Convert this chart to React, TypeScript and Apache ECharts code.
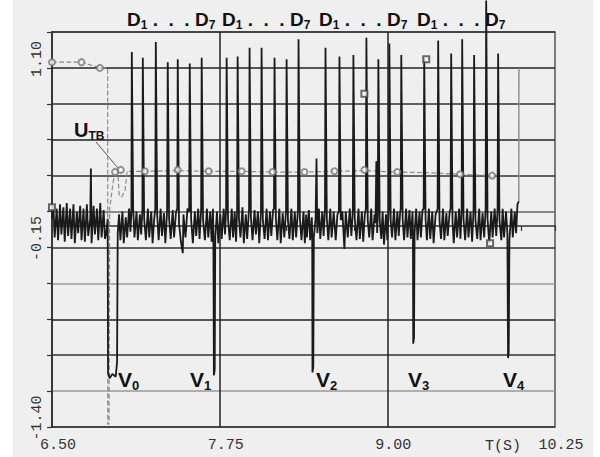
import React, { useEffect, useRef } from 'react';
import * as echarts from 'echarts';

// ---------- axis / label texts ----------
const xTickLabels = ['6.50', '7.75', '9.00', '10.25'];
const yTickLabels = ['1.10', '-0.15', '-1.40'];
const cursorTimes = [7.75, 9.0];
const groupSubs = [['1', '7'], ['1', '7'], ['1', '7'], ['1', '7']];
const valleySubs = ['0', '1', '2', '3', '4'];
const xAxisUnit = 'T(S)';

// ---------- main signal (t [s], value) ----------
const signalLead: [number, number][] = [
  [6.50, 0.05], [6.51, 0.14], [6.52, -0.08], [6.535, 0.12], [6.545, -0.10], [6.56, 0.15], [6.57, -0.06],
  [6.585, 0.13], [6.595, -0.11], [6.61, 0.16], [6.62, -0.07], [6.635, 0.12], [6.645, -0.09], [6.66, 0.15],
  [6.67, -0.12], [6.685, 0.10], [6.695, -0.05], [6.71, 0.14], [6.72, -0.10], [6.735, 0.12], [6.745, -0.11],
  [6.76, 0.15], [6.77, -0.07], [6.785, 0.05], [6.79, 0.40], [6.795, -0.12], [6.81, 0.14], [6.82, -0.06],
  [6.835, 0.12], [6.845, -0.10], [6.86, 0.16], [6.87, -0.08], [6.885, 0.11], [6.895, -0.09], [6.905, -0.05],
  [6.915, 0.05], [6.918, -1.02], [6.93, -1.06], [6.95, -1.03], [6.975, -1.05], [6.985, -0.95], [6.99, -0.05],
  [7.0, 0.08], [7.01, -0.10], [7.025, 0.10], [7.035, -0.12], [7.05, 0.06], [7.06, -0.08], [7.075, 0.12], [7.085, -0.04],
];

const signalGroup1: [number, number][] = [
  [7.092, 0.10], [7.095, 1.21], [7.105, 0.12], [7.115, -0.08], [7.13, 0.10], [7.14, -0.10], [7.155, 0.08], [7.165, -0.06],
  [7.174, 0.12], [7.177, 1.17], [7.187, 0.05], [7.20, -0.10], [7.215, 0.12], [7.225, -0.08], [7.24, 0.10], [7.25, -0.12], [7.262, 0.05],
  [7.27, 0.12], [7.274, 1.28], [7.284, 0.08], [7.295, -0.10], [7.31, 0.12], [7.32, -0.07], [7.335, 0.09], [7.345, -0.12],
  [7.358, 0.10], [7.363, 1.14], [7.373, 0.05], [7.385, -0.09], [7.40, 0.11], [7.41, -0.08], [7.425, 0.10],
  [7.434, 0.12], [7.4375, 1.16], [7.447, 0.02], [7.46, -0.10], [7.475, -0.19], [7.48, 0.08], [7.495, -0.08], [7.51, 0.12],
  [7.523, 0.10], [7.527, 1.13], [7.537, 0.05], [7.55, -0.12], [7.565, 0.10], [7.575, -0.07], [7.59, 0.12], [7.60, -0.09],
  [7.612, 0.12], [7.616, 1.17], [7.626, 0.04], [7.64, -0.10], [7.655, 0.12], [7.665, -0.08], [7.68, 0.10], [7.69, -0.11],
  [7.70, 0.12], [7.703, -0.05], [7.707, -1.04], [7.713, -1.0], [7.717, -0.08],
  [7.73, 0.10], [7.74, -0.12], [7.755, 0.08], [7.765, -0.09], [7.78, 0.12], [7.79, -0.06],
];

const signalGroup2: [number, number][] = [
  [7.798, 0.12], [7.802, 1.17], [7.812, 0.05], [7.825, -0.10], [7.84, 0.12], [7.85, -0.08], [7.862, 0.10], [7.872, -0.11],
  [7.88, 0.10], [7.884, 1.18], [7.894, 0.05], [7.905, -0.08], [7.92, 0.13], [7.93, -0.12], [7.945, 0.08], [7.955, -0.09],
  [7.969, 0.12], [7.973, 1.24], [7.983, 0.06], [7.995, -0.10], [8.01, 0.11], [8.02, -0.06], [8.035, 0.10], [8.045, -0.12],
  [8.058, 0.10], [8.0625, 1.24], [8.072, 0.04], [8.085, -0.09], [8.10, 0.12], [8.11, -0.10], [8.125, 0.10], [8.135, -0.07], [8.148, 0.11],
  [8.155, 0.12], [8.159, 1.17], [8.169, 0.05], [8.18, -0.10], [8.195, 0.12], [8.205, -0.12], [8.22, 0.09], [8.232, -0.08],
  [8.245, 0.11], [8.249, 1.16], [8.259, 0.04], [8.27, -0.09], [8.285, 0.12], [8.295, -0.10], [8.31, 0.10], [8.32, -0.08],
  [8.334, 0.12], [8.338, 1.30], [8.348, 0.05], [8.36, -0.10], [8.375, 0.10], [8.385, -0.12], [8.395, 0.08],
  [8.40, -0.08], [8.415, 0.11], [8.425, -0.10], [8.437, 0.06], [8.44, -0.05], [8.442, -1.02], [8.448, -0.98], [8.452, -0.08],
  [8.465, 0.05], [8.472, 0.47], [8.478, -0.05], [8.49, 0.12], [8.50, -0.09], [8.515, 0.10], [8.525, -0.07],
];

const signalGroup3: [number, number][] = [
  [8.535, 0.12], [8.539, 1.24], [8.549, 0.05], [8.56, -0.10], [8.575, 0.12], [8.585, -0.08], [8.60, 0.10], [8.615, -0.10], [8.628, 0.08],
  [8.639, 0.10], [8.643, 1.18], [8.653, 0.04], [8.665, 0.10], [8.68, -0.16], [8.69, 0.10], [8.705, -0.08], [8.72, 0.12], [8.732, -0.07],
  [8.743, 0.11], [8.747, 1.19], [8.757, 0.05], [8.77, -0.10], [8.785, 0.12], [8.795, -0.09], [8.81, 0.10], [8.82, -0.11], [8.832, 0.08],
  [8.84, 0.12], [8.844, 1.31], [8.854, 0.04], [8.865, -0.08], [8.88, 0.12], [8.89, -0.10], [8.905, 0.08],
  [8.912, 0.02], [8.918, 0.45], [8.924, -0.05],
  [8.929, 0.10], [8.933, 1.16], [8.943, 0.04], [8.955, -0.09], [8.965, 0.10], [8.975, -0.13], [8.99, 0.08], [9.0, -0.10],
  [9.011, 0.12], [9.015, 1.27], [9.025, 0.04], [9.035, -0.08], [9.05, 0.12], [9.06, -0.10], [9.075, 0.10], [9.085, -0.07], [9.095, 0.09],
  [9.1, 0.12], [9.104, 1.19], [9.114, 0.05], [9.125, -0.10], [9.14, 0.12], [9.15, -0.08], [9.165, 0.11],
  [9.175, -0.09], [9.188, 0.10], [9.191, -0.05], [9.193, -0.82], [9.199, -0.78], [9.203, -0.05],
  [9.215, 0.12], [9.225, -0.10], [9.24, 0.10], [9.25, -0.08], [9.262, 0.11],
];

const signalGroup4: [number, number][] = [
  [9.271, 0.12], [9.275, 1.17], [9.285, 0.05], [9.295, -0.10], [9.31, 0.12], [9.32, -0.09], [9.335, 0.10], [9.345, -0.12], [9.36, 0.08],
  [9.375, 0.12], [9.379, 1.29], [9.389, 0.04], [9.40, -0.09], [9.415, 0.12], [9.425, -0.10], [9.44, 0.09], [9.45, -0.07], [9.465, 0.10],
  [9.472, 0.12], [9.476, 1.20], [9.486, 0.03], [9.495, -0.12], [9.51, 0.10], [9.52, -0.08], [9.535, 0.12], [9.545, -0.09],
  [9.554, 0.11], [9.558, 1.30], [9.568, 0.05], [9.58, -0.10], [9.595, 0.12], [9.605, -0.08], [9.62, 0.10], [9.632, -0.11],
  [9.643, 0.12], [9.647, 1.19], [9.657, 0.04], [9.67, -0.09], [9.685, 0.12], [9.695, -0.10], [9.71, 0.09], [9.722, -0.08],
  [9.733, 0.12], [9.737, 1.57], [9.747, 0.05], [9.76, -0.12], [9.775, 0.10], [9.785, -0.08], [9.80, 0.12], [9.812, -0.07],
  [9.822, 0.12], [9.826, 1.20], [9.836, 0.04], [9.85, -0.10], [9.86, 0.12], [9.87, -0.08],
  [9.885, 0.10], [9.895, -0.05], [9.90, -0.92], [9.905, -0.88], [9.91, -0.10], [9.925, 0.12], [9.935, -0.08],
  [9.95, 0.10], [9.96, -0.05], [9.97, 0.15], [9.98, 0.17],
];

// ---------- U_TB (grey trace) ----------
const utbTrace: [number, number][] = [
  [6.50, 1.14], [6.72, 1.14], [6.86, 1.10], [6.915, 1.10], [6.916, -1.38], [6.925, -1.38], [6.93, 0.12],
  [6.955, 0.30], [6.97, 0.38], [6.99, 0.39], [7.0, 0.22], [7.02, 0.20], [7.045, 0.25], [7.06, 0.38],
  [7.19, 0.38], [7.44, 0.385], [7.67, 0.38], [7.91, 0.38], [8.14, 0.375], [8.38, 0.375], [8.61, 0.38],
  [8.83, 0.385], [9.07, 0.375], [9.30, 0.37], [9.54, 0.36], [9.78, 0.35], [9.84, 0.355],
];
const utbEnd: [number, number][] = [[9.98, 0.17], [9.981, 1.10]];
const utbCircles: [number, number][] = [
  [6.50, 1.14], [6.72, 1.14], [6.857, 1.10], [6.97, 0.376], [7.013, 0.39], [7.192, 0.38], [7.4375, 0.39],
  [7.668, 0.38], [7.914, 0.38], [8.144, 0.375], [8.382, 0.375], [8.606, 0.38], [8.829, 0.39], [9.074, 0.375],
  [9.543, 0.36], [9.781, 0.35],
];
const squareMarks: [number, number][] = [[6.50, 0.13], [8.829, 0.92], [9.29, 1.16], [9.766, -0.12]];

const splitColors = ['#333', '#9a9a9a', '#333', '#222', '#9a9a9a', '#333', '#666', '#333', '#222', '#333', '#222', '#333'];

const SANS = '"Liberation Sans", Arial, sans-serif';
const MONO = '"Liberation Mono", "DejaVu Sans Mono", monospace';
const NB = '\u00a0';

export default function App() {
  const ref = useRef<HTMLDivElement>(null);
  useEffect(() => {
    if (!ref.current) return;
    const chart = echarts.init(ref.current, undefined, { renderer: 'svg' });
    const signal = [...signalLead, ...signalGroup1, ...signalGroup2, ...signalGroup3, ...signalGroup4];

    const dRich = {
      d: { fontSize: 19, fontFamily: SANS, fontWeight: 'bold', fill: '#111', lineHeight: 22 },
      s: { fontSize: 12, fontFamily: SANS, fontWeight: 'bold', fill: '#111', lineHeight: 12, verticalAlign: 'bottom' },
    };
    const groupLeft = [127, 222, 319, 417];
    const groupTexts = groupSubs.map((g, i) => ({
      type: 'text',
      left: groupLeft[i],
      top: 10,
      style: {
        text: `{d|D}{s|${g[0]}}{d|${NB}.${NB}${NB}.${NB}${NB}.${NB}}{d|D}{s|${g[1]}}`,
        rich: dRich,
      },
    }));
    const vRich = {
      v: { fontSize: 21, fontFamily: SANS, fontWeight: 'bold', fill: '#111', lineHeight: 24 },
      s: { fontSize: 13, fontFamily: SANS, fontWeight: 'bold', fill: '#111', lineHeight: 13, verticalAlign: 'bottom' },
    };
    const valleyLeft = [118, 190, 316, 408, 503];
    const valleyTexts = valleySubs.map((s, i) => ({
      type: 'text',
      left: valleyLeft[i],
      top: 369,
      style: { text: `{v|V}{s|${s}}`, rich: vRich },
    }));

    chart.setOption({
      animation: false,
      grid: {
        left: 52, right: 45, top: 32, bottom: 30,
        show: true, borderColor: '#555', borderWidth: 1.5, backgroundColor: 'transparent',
      },
      xAxis: {
        type: 'value', min: 6.5, max: 10.25, interval: 0.25,
        axisLine: { lineStyle: { color: '#333', width: 1.5 } },
        axisTick: { show: true, length: 5, lineStyle: { color: '#333', width: 1.2 } },
        splitLine: { show: false },
        axisLabel: {
          margin: 11,
          formatter: (v: number) => {
            const s = v.toFixed(2);
            return xTickLabels.includes(s) ? `{a|${s}}` : '';
          },
          rich: { a: { fontFamily: MONO, fontSize: 15, color: '#333', padding: [0, 0, 0, 12] } },
        },
      },
      yAxis: {
        type: 'value', min: -1.4, max: 1.35, interval: 0.25,
        axisLine: { show: true, lineStyle: { color: '#222', width: 1.5 } },
        axisTick: { show: true, length: 5, lineStyle: { color: '#333', width: 1.2 } },
        splitLine: { show: true, lineStyle: { color: splitColors, width: 1.5 } },
        axisLabel: {
          rotate: 90,
          margin: 7,
          formatter: (v: number) => {
            const s = v.toFixed(2);
            return yTickLabels.includes(s) ? `{a|${s}}` : '';
          },
          rich: { a: { fontFamily: MONO, fontSize: 15, color: '#333', padding: [0, 0, 0, 18] } },
        },
      },
      graphic: [
        ...groupTexts,
        ...valleyTexts,
        {
          type: 'text', left: 74, top: 120,
          style: {
            text: '{u|U}{t|TB}',
            rich: {
              u: { fontSize: 20, fontFamily: SANS, fontWeight: 'bold', fill: '#111', lineHeight: 24 },
              t: { fontSize: 12, fontFamily: SANS, fontWeight: 'bold', fill: '#111', lineHeight: 13, verticalAlign: 'bottom' },
            },
          },
        },
        { type: 'line', shape: { x1: 96, y1: 142, x2: 118, y2: 168 }, style: { stroke: '#555', lineWidth: 1 } },
        {
          type: 'text', left: 485, top: 439,
          style: { text: xAxisUnit, font: `15px ${MONO}`, fill: '#333' },
        },
      ],
      series: [
        {
          type: 'line', data: utbTrace, showSymbol: false, z: 2,
          lineStyle: { color: '#8c8c8c', width: 1.2, type: 'dashed' },
        },
        {
          type: 'line', data: utbEnd, showSymbol: false, z: 2,
          lineStyle: { color: '#8c8c8c', width: 1.4 },
        },
        {
          type: 'line', data: signal, showSymbol: false, clip: false, z: 3,
          lineStyle: { color: '#1a1a1a', width: 1.8 },
          markLine: {
            silent: true, symbol: 'none', label: { show: false },
            lineStyle: { color: '#222', width: 1.5, type: 'solid' },
            data: cursorTimes.map((t) => ({ xAxis: t })),
          },
        },
        {
          type: 'scatter', data: utbCircles, symbol: 'emptyCircle', symbolSize: 6, z: 4,
          itemStyle: { color: '#777', borderWidth: 1 },
        },
        {
          type: 'scatter', data: squareMarks, symbol: 'emptyRect', symbolSize: 6, z: 4,
          itemStyle: { color: '#444', borderWidth: 1 },
        },
      ],
    });
    return () => chart.dispose();
  }, []);

  return (
    <div
      ref={ref}
      style={{
        position: 'absolute', left: 0, top: 0, width: 600, height: 457,
        background: 'linear-gradient(to right, #fff 0px, #fff 13px, #efefef 13px, #efefef 593px, #fff 593px)',
      }}
    />
  );
}
